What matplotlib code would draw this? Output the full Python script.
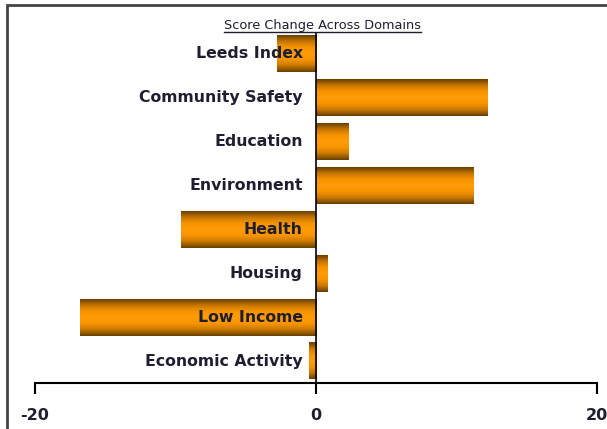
import numpy as np
import matplotlib.pyplot as plt
from matplotlib.patches import Rectangle
from matplotlib.colors import LinearSegmentedColormap

domains = ['Leeds Index', 'Community Safety', 'Education', 'Environment',
           'Health', 'Housing', 'Low Income', 'Economic Activity']
change = [-2.8, 12.2, 2.3, 11.2, -9.6, 0.85, -16.8, -0.5]
xticks = [-20, 0, 20]

W, H = 607, 429
fig = plt.figure(figsize=(W / 100, H / 100), dpi=100)
ax = fig.add_axes([35 / W, 1 - 383 / H, 562 / W, 351 / H])

# shaded bar colour: dark at edges, bright orange in the middle
cmap = LinearSegmentedColormap.from_list('bar', ['#6a4000', '#c87800', '#f79400', '#ff9c08', '#f79400', '#c87800', '#6a4000'])
grad = np.linspace(0, 1, 64).reshape(-1, 1)
bh = 0.84
for i, v in enumerate(change):
    x0, x1 = min(0, v), max(0, v)
    ax.imshow(grad, cmap=cmap, aspect='auto', interpolation='bilinear',
              extent=[x0, x1, i + bh / 2, i - bh / 2], zorder=2)
    ax.text(-0.95, i, domains[i], ha='right', va='center', fontsize=11.3,
            fontweight='bold', color='#1e1e30', zorder=4)

ax.set_xlim(-20, 20)
ax.set_ylim(len(domains) - 0.5, -0.5)
ax.axvline(0, color='black', lw=1.2, zorder=3)

for s in ['top', 'right', 'left']:
    ax.spines[s].set_visible(False)
ax.spines['bottom'].set_linewidth(1.5)
ax.set_yticks([])
ax.set_xticks(xticks)
ax.set_xticklabels([str(t) for t in xticks], fontsize=11.5, fontweight='bold', color='#1e1e30')
ax.tick_params(axis='x', direction='out', length=8, width=1.5, pad=10)

# figure border
fig.patches.append(Rectangle((7 / W, -0.05), 1.1, 1 - 5 / H + 0.05, transform=fig.transFigure,
                             fill=False, ec='#444444', lw=2, figure=fig))

t = fig.text(322 / W, 1 - 25 / H, 'Score Change Across Domains', ha='center', va='center',
             fontsize=9.3, color='#1e1e30')
fig.canvas.draw()
bb = t.get_window_extent().transformed(fig.transFigure.inverted())
fig.add_artist(plt.Line2D([bb.x0, bb.x1], [bb.y0 - 0.001, bb.y0 - 0.001], transform=fig.transFigure,
                          color='#1e1e30', lw=1))

fig.savefig('out.png', dpi=100)
